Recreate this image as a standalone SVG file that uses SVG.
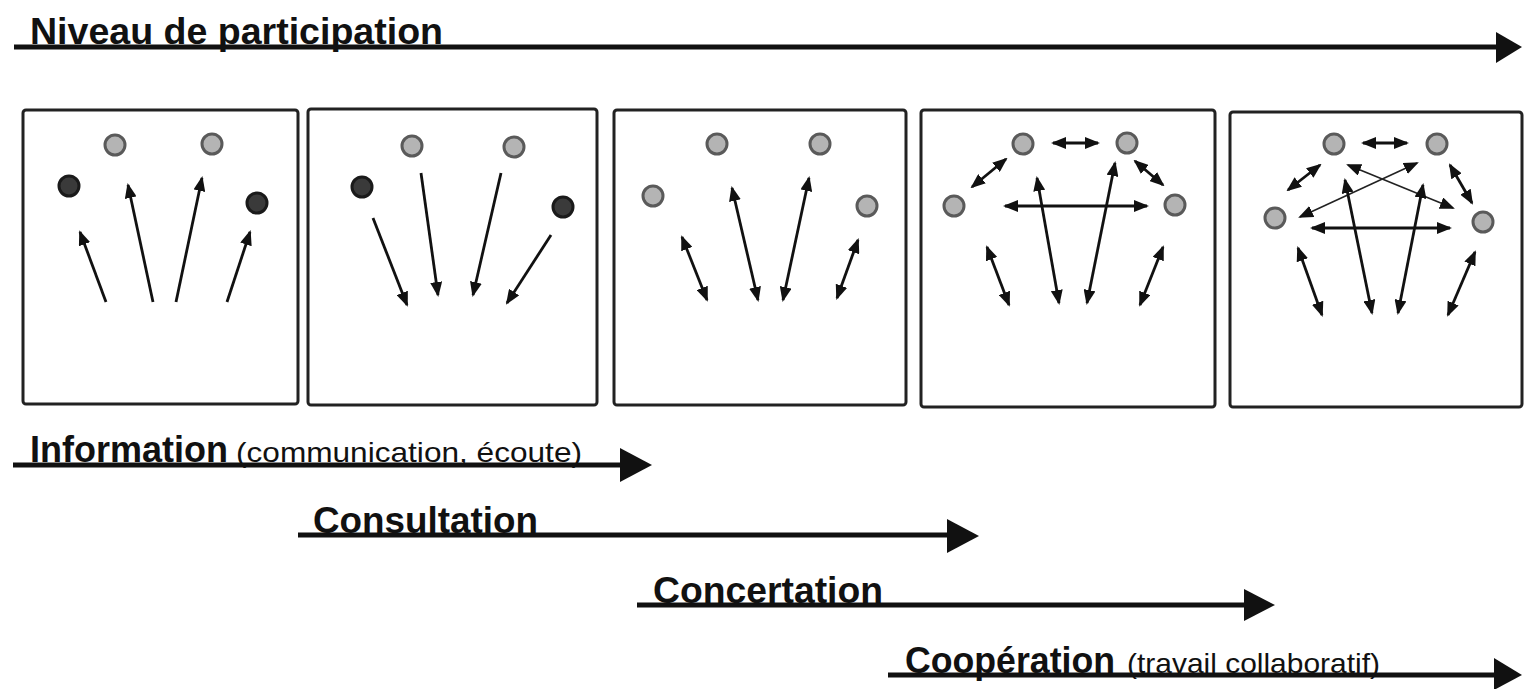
<svg xmlns="http://www.w3.org/2000/svg" width="1529" height="689" viewBox="0 0 1529 689">
<style>
.bg{fill:#fff}
.box{fill:#fff;stroke:#222;stroke-width:3}
.ng{fill:#b4b4b4;stroke:#5a5a5a;stroke-width:3}
.nd{fill:#3a3a3a;stroke:#1a1a1a;stroke-width:3}
.a{stroke:#111;stroke-width:2.8;fill:none;marker-end:url(#ah)}
.d{stroke:#111;stroke-width:2.8;fill:none;marker-end:url(#ah);marker-start:url(#ah)}
.t{stroke:#222;stroke-width:1.6;fill:none;marker-end:url(#ah);marker-start:url(#ah)}
.big{stroke:#111;stroke-width:5;fill:none}
.head{fill:#111}
.lb{font-family:"Liberation Sans",Arial,sans-serif;font-weight:bold;font-size:37px;fill:#111}
.ls{font-family:"Liberation Sans",Arial,sans-serif;font-size:28px;fill:#111}
</style>
<defs>
<marker id="ah" viewBox="0 0 15 12" refX="13" refY="6" markerWidth="15" markerHeight="12" markerUnits="userSpaceOnUse" orient="auto-start-reverse">
<path d="M0,0 L15,6 L0,12 z" fill="#111"/>
</marker>
</defs>
<rect class="bg" x="0" y="0" width="1529" height="689"/>

<g id="title">
<text class="lb" x="30" y="44" textLength="413" lengthAdjust="spacingAndGlyphs">Niveau de participation</text>
</g>

<g id="box-information">
<rect class="box" x="23" y="110" width="275" height="294" rx="3"/>
<circle class="ng" cx="115" cy="145" r="10"/>
<circle class="ng" cx="212" cy="144" r="10"/>
<circle class="nd" cx="69" cy="186" r="10"/>
<circle class="nd" cx="257" cy="203" r="10"/>
</g>
<g id="box-consultation">
<rect class="box" x="308" y="109" width="289" height="296" rx="3"/>
<circle class="ng" cx="412" cy="146" r="10"/>
<circle class="ng" cx="514" cy="147" r="10"/>
<circle class="nd" cx="362" cy="187" r="10"/>
<circle class="nd" cx="563" cy="207" r="10"/>
</g>
<g id="box-concertation">
<rect class="box" x="614" y="110" width="292" height="295" rx="3"/>
<circle class="ng" cx="717" cy="144" r="10"/>
<circle class="ng" cx="820" cy="144" r="10"/>
<circle class="ng" cx="653" cy="196" r="10"/>
<circle class="ng" cx="867" cy="206" r="10"/>
</g>
<g id="box-concertation2">
<rect class="box" x="921" y="110" width="294" height="297" rx="3"/>
<circle class="ng" cx="1023" cy="144" r="10"/>
<circle class="ng" cx="1127" cy="143" r="10"/>
<circle class="ng" cx="954" cy="206" r="10"/>
<circle class="ng" cx="1175" cy="205" r="10"/>
</g>
<g id="box-cooperation">
<rect class="box" x="1230" y="112" width="292" height="295" rx="3"/>
<circle class="ng" cx="1334" cy="144" r="10"/>
<circle class="ng" cx="1437" cy="144" r="10"/>
<circle class="ng" cx="1275" cy="218" r="10"/>
<circle class="ng" cx="1483" cy="222" r="10"/>
</g>

<g id="connectors">
<!-- box 1: upward -->
<line class="a" x1="106" y1="302" x2="80" y2="232"/>
<line class="a" x1="153" y1="302" x2="128" y2="185"/>
<line class="a" x1="176" y1="302" x2="202" y2="178"/>
<line class="a" x1="227" y1="302" x2="250" y2="232"/>
<!-- box 2: downward -->
<line class="a" x1="373" y1="218" x2="407" y2="305"/>
<line class="a" x1="421" y1="173" x2="438" y2="295"/>
<line class="a" x1="501" y1="173" x2="473" y2="295"/>
<line class="a" x1="551" y1="235" x2="507" y2="303"/>
<!-- box 3: double -->
<line class="d" x1="682" y1="237" x2="707" y2="300"/>
<line class="d" x1="732" y1="188" x2="758" y2="300"/>
<line class="d" x1="809" y1="178" x2="783" y2="300"/>
<line class="d" x1="858" y1="240" x2="837" y2="298"/>
<!-- box 4 -->
<line class="d" x1="1053" y1="143" x2="1098" y2="143"/>
<line class="d" x1="972" y1="187" x2="1006" y2="159"/>
<line class="d" x1="1135" y1="161" x2="1163" y2="185"/>
<line class="d" x1="1005" y1="206" x2="1147" y2="206"/>
<line class="d" x1="1037" y1="178" x2="1059" y2="303"/>
<line class="d" x1="1115" y1="163" x2="1087" y2="303"/>
<line class="d" x1="987" y1="247" x2="1009" y2="305"/>
<line class="d" x1="1163" y1="247" x2="1140" y2="305"/>
<!-- box 5 -->
<line class="d" x1="1363" y1="143" x2="1407" y2="143"/>
<line class="d" x1="1288" y1="190" x2="1320" y2="165"/>
<line class="d" x1="1450" y1="165" x2="1472" y2="203"/>
<line class="t" x1="1348" y1="165" x2="1453" y2="208"/>
<line class="t" x1="1417" y1="163" x2="1300" y2="217"/>
<line class="d" x1="1312" y1="228" x2="1450" y2="228"/>
<line class="d" x1="1345" y1="180" x2="1372" y2="313"/>
<line class="d" x1="1423" y1="185" x2="1398" y2="313"/>
<line class="d" x1="1298" y1="248" x2="1322" y2="315"/>
<line class="d" x1="1475" y1="252" x2="1448" y2="315"/>
<!-- big arrows -->
<line class="big" x1="14" y1="47" x2="1500" y2="47"/>
<polygon class="head" points="1496,32 1522,47 1496,63"/>
<line class="big" x1="13" y1="465" x2="625" y2="465"/>
<polygon class="head" points="620,448 652,465 620,482"/>
<line class="big" x1="298" y1="535" x2="952" y2="535"/>
<polygon class="head" points="947,519 979,536 947,553"/>
<line class="big" x1="637" y1="605" x2="1248" y2="605"/>
<polygon class="head" points="1244,589 1275,605 1244,621"/>
<line class="big" x1="888" y1="675" x2="1498" y2="675"/>
<polygon class="head" points="1494,658 1522,675 1494,690"/>
</g>

<g id="labels">
<text class="lb" x="30" y="462" textLength="198" lengthAdjust="spacingAndGlyphs">Information</text>
<text class="ls" x="236" y="462" textLength="346" lengthAdjust="spacingAndGlyphs">(communication, écoute)</text>
<text class="lb" x="313" y="533" textLength="225" lengthAdjust="spacingAndGlyphs">Consultation</text>
<text class="lb" x="653" y="603" textLength="230" lengthAdjust="spacingAndGlyphs">Concertation</text>
<text class="lb" x="905" y="673" textLength="210" lengthAdjust="spacingAndGlyphs">Coopération</text>
<text class="ls" x="1127" y="673" textLength="253" lengthAdjust="spacingAndGlyphs">(travail collaboratif)</text>
</g>
</svg>
